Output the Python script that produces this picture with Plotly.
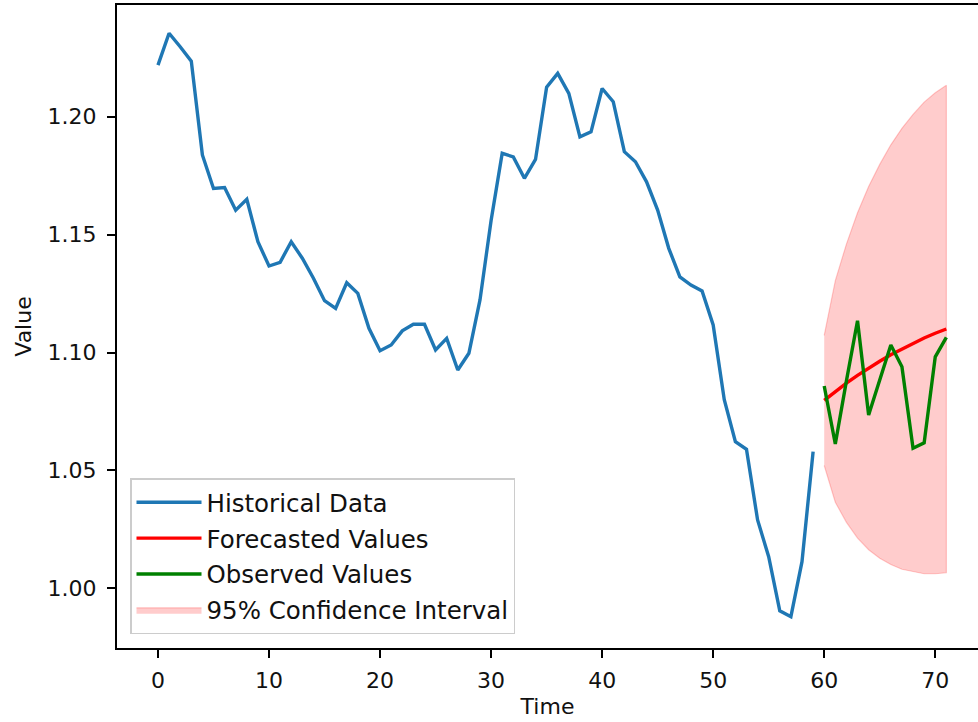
import plotly.graph_objects as go

# Historical series (t = 0..59)
hist_t = list(range(60))
hist_values = [
    1.2219, 1.2354, 1.2297, 1.2236, 1.1838, 1.1696, 1.1700, 1.1604, 1.1650, 1.1470,
    1.1367, 1.1383, 1.1470, 1.1400, 1.1315, 1.1220, 1.1187, 1.1296, 1.1251, 1.1103,
    1.1008, 1.1032, 1.1092, 1.1120, 1.1120, 1.1011, 1.1060, 1.0926, 1.0997, 1.1223,
    1.1560, 1.1845, 1.1830, 1.1739, 1.1819, 1.2125, 1.2184, 1.2099, 1.1915, 1.1936,
    1.2120, 1.2064, 1.1852, 1.1809, 1.1724, 1.1604, 1.1442, 1.1321, 1.1286, 1.1261,
    1.1117, 1.0800, 1.0622, 1.0590, 1.0290, 1.0134, 0.9905, 0.9880, 1.0113, 1.0580,
]

# Forecast horizon (t = 60..71)
fc_t = list(range(60, 72))
forecast_values = [1.0797, 1.0835, 1.0870, 1.0903, 1.0934, 1.0963,
                   1.0991, 1.1016, 1.1040, 1.1062, 1.1082, 1.1100]
observed_values = [1.0858, 1.0612, 1.0880, 1.1135, 1.0735, 1.0880,
                   1.1032, 1.0940, 1.0594, 1.0617, 1.0982, 1.1064]
ci_upper = [1.1073, 1.1305, 1.1460, 1.1593, 1.1704, 1.1798,
            1.1881, 1.1951, 1.2010, 1.2062, 1.2102, 1.2134]
ci_lower = [1.0521, 1.0365, 1.0280, 1.0213, 1.0164, 1.0128,
            1.0101, 1.0081, 1.0070, 1.0062, 1.0062, 1.0066]

x_ticks = [0, 10, 20, 30, 40, 50, 60, 70]
y_ticks = [1.00, 1.05, 1.10, 1.15, 1.20]

FONT = "DejaVu Sans"
LW = 3.4

fig = go.Figure()

# Confidence band as a closed polygon (drawn first so it sits under the lines)
fig.add_trace(go.Scatter(
    x=fc_t + fc_t[::-1],
    y=ci_upper + ci_lower[::-1],
    fill="toself",
    fillcolor="rgba(255,0,0,0.2)",
    line=dict(color="rgba(255,0,0,0.2)", width=1.2),
    mode="lines",
    name="95% Confidence Interval",
    legendrank=4,
    legendgroup="g4",
    hoverinfo="skip",
))
fig.add_trace(go.Scatter(
    x=hist_t, y=hist_values, mode="lines",
    line=dict(color="#1f77b4", width=LW),
    name="Historical Data", legendrank=1, legendgroup="g1",
))
fig.add_trace(go.Scatter(
    x=fc_t, y=forecast_values, mode="lines",
    line=dict(color="#ff0000", width=LW),
    name="Forecasted Values", legendrank=2, legendgroup="g2",
))
fig.add_trace(go.Scatter(
    x=fc_t, y=observed_values, mode="lines",
    line=dict(color="#008000", width=LW),
    name="Observed Values", legendrank=3, legendgroup="g3",
))

axis_common = dict(
    showgrid=False, zeroline=False,
    showline=True, linecolor="black", linewidth=2,
    ticks="outside", ticklen=8, tickwidth=2, tickcolor="black",
    tickfont=dict(family=FONT, size=22, color="#111"),
)

fig.update_layout(
    width=978, height=722,
    margin=dict(l=117, r=0, t=5, b=74),
    paper_bgcolor="white", plot_bgcolor="white",
    font=dict(family=FONT, size=22, color="#111"),
    xaxis=dict(
        range=[-3.69, 73.85],
        tickvals=x_ticks,
        mirror=True,
        title=dict(text="Time", font=dict(family=FONT, size=22), standoff=6),
        ticklabelstandoff=4,
        **axis_common,
    ),
    yaxis=dict(
        range=[0.9747, 1.2474],
        tickvals=y_ticks,
        tickformat=".2f",
        title=dict(text="Value", font=dict(family=FONT, size=22), standoff=10),
        ticklabelstandoff=6,
        **axis_common,
    ),
    legend=dict(
        x=0.0151, y=0.0213, xanchor="left", yanchor="bottom",
        bgcolor="rgba(255,255,255,0.8)",
        bordercolor="rgba(204,204,204,1)", borderwidth=1.5,
        font=dict(family=FONT, size=24.5, color="#111"),
        traceorder="grouped", tracegroupgap=1,
        itemwidth=65,
    ),
    showlegend=True,
)

fig.write_html("out.html")
